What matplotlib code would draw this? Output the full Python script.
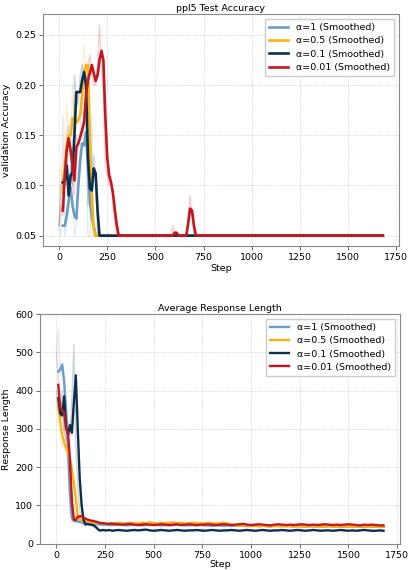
import matplotlib
matplotlib.use("Agg")
import matplotlib.pyplot as plt
import numpy as np

# ---- data -------------------------------------------------------------
labels = ["α=1 (Smoothed)", "α=0.5 (Smoothed)", "α=0.1 (Smoothed)", "α=0.01 (Smoothed)"]
colors = ["#6b9cc4", "#f9b414", "#0c2f4e", "#c4161e"]

# validation accuracy, evaluated every 10 steps
acc_steps = list(range(0, 1690, 10))
acc_floor = 0.05

# raw values, steps 0..320
acc_raw_early = [
    [0.06, 0.05, 0.17, 0.05, 0.06, 0.08, 0.13, 0.09, 0.05, 0.06, 0.11, 0.15, 0.22, 0.14, 0.16, 0.05, 0.05,
     0.17, 0.05, 0.05, 0.05, 0.05, 0.05, 0.05, 0.05, 0.05, 0.05, 0.05, 0.05, 0.05, 0.05, 0.05, 0.05],
    [0.06, 0.12, 0.09, 0.15, 0.18, 0.14, 0.13, 0.20, 0.16, 0.17, 0.16, 0.17, 0.20, 0.24, 0.20, 0.22, 0.13,
     0.05, 0.05, 0.05, 0.05, 0.05, 0.05, 0.05, 0.05, 0.05, 0.05, 0.05, 0.05, 0.05, 0.05, 0.05, 0.05],
    [0.06, 0.10, 0.11, 0.10, 0.13, 0.08, 0.12, 0.10, 0.21, 0.19, 0.18, 0.21, 0.22, 0.21, 0.21, 0.08, 0.09,
     0.10, 0.13, 0.11, 0.05, 0.05, 0.05, 0.05, 0.05, 0.05, 0.05, 0.05, 0.05, 0.05, 0.05, 0.05, 0.05],
    [0.06, 0.08, 0.07, 0.12, 0.15, 0.16, 0.13, 0.11, 0.09, 0.15, 0.14, 0.15, 0.16, 0.17, 0.19, 0.22, 0.23,
     0.21, 0.20, 0.20, 0.22, 0.26, 0.22, 0.19, 0.12, 0.11, 0.10, 0.11, 0.08, 0.06, 0.05, 0.05, 0.05],
]
# smoothed values, steps 20..320
acc_smooth_early = [
    [0.060, 0.060, 0.070, 0.085, 0.098, 0.080, 0.070, 0.067, 0.100, 0.125, 0.142, 0.140, 0.153, 0.120,
     0.085, 0.068, 0.060, 0.050, 0.050, 0.050, 0.050, 0.050, 0.050, 0.050, 0.050, 0.050, 0.050, 0.050,
     0.050, 0.050, 0.050],
    [0.093, 0.120, 0.140, 0.150, 0.150, 0.167, 0.167, 0.163, 0.165, 0.170, 0.190, 0.210, 0.220, 0.220,
     0.150, 0.090, 0.057, 0.050, 0.050, 0.050, 0.050, 0.050, 0.050, 0.050, 0.050, 0.050, 0.050, 0.050,
     0.050, 0.050, 0.050],
    [0.103, 0.105, 0.120, 0.090, 0.110, 0.113, 0.150, 0.193, 0.193, 0.193, 0.205, 0.213, 0.200, 0.130,
     0.097, 0.095, 0.117, 0.112, 0.075, 0.050, 0.050, 0.050, 0.050, 0.050, 0.050, 0.050, 0.050, 0.050,
     0.050, 0.050, 0.050],
    [0.075, 0.110, 0.135, 0.147, 0.135, 0.120, 0.105, 0.138, 0.142, 0.148, 0.155, 0.163, 0.190, 0.205,
     0.212, 0.220, 0.212, 0.204, 0.210, 0.225, 0.234, 0.225, 0.170, 0.128, 0.110, 0.103, 0.092, 0.075,
     0.060, 0.050, 0.050],
]
# late bump of α=0.01, steps 580..720
red_bump_steps = [580, 590, 600, 610, 620, 630, 640, 650, 660, 670, 680, 690, 700, 710, 720]
red_bump_raw = [0.05, 0.06, 0.05, 0.05, 0.05, 0.05, 0.05, 0.05, 0.05, 0.07, 0.09, 0.07, 0.05, 0.05, 0.05]
red_bump_smooth = [0.050, 0.050, 0.053, 0.053, 0.050, 0.050, 0.050, 0.050, 0.050, 0.062, 0.077, 0.075,
                   0.060, 0.050, 0.050]

# response length
resp_steps_early = list(range(10, 300, 10))
resp_steps_late = list(range(300, 1700, 20))
resp_early = [
    [450, 455, 468, 425, 350, 255, 135, 68, 60, 59, 58, 57, 56, 55, 55, 54, 53, 53, 52, 52, 51, 51, 50,
     50, 50, 50, 49, 49, 49],
    [360, 320, 285, 265, 250, 240, 220, 195, 160, 120, 72, 63, 60, 60, 58, 57, 56, 56, 55, 55, 55, 54,
     54, 54, 53, 53, 53, 53, 53],
    [380, 340, 335, 385, 305, 285, 310, 290, 370, 440, 300, 170, 100, 62, 50, 52, 50, 50, 48, 45, 40, 35,
     35, 36, 35, 35, 36, 35, 34],
    [415, 355, 350, 345, 300, 290, 220, 110, 63, 62, 70, 72, 72, 68, 66, 63, 62, 60, 60, 58, 57, 55, 54,
     54, 53, 52, 52, 53, 52],
]
resp_late = [
    [49, 50, 49, 48, 49, 50, 49, 48, 49, 49, 50, 49, 48, 49, 48, 49, 50, 49, 48, 48, 49, 48, 49, 48, 48,
     47, 48, 48, 47, 48, 47, 47, 48, 47, 46, 47, 47, 46, 47, 46, 46, 47, 46, 46, 47, 46, 45, 46, 46, 45,
     46, 45, 46, 45, 45, 46, 45, 45, 44, 45, 45, 44, 45, 45, 44, 45, 44, 45, 44, 44],
    [54, 55, 53, 54, 55, 54, 53, 55, 54, 56, 54, 53, 55, 54, 55, 56, 54, 55, 53, 54, 55, 54, 53, 54, 55,
     54, 53, 54, 55, 53, 50, 48, 47, 48, 47, 46, 47, 46, 47, 46, 45, 46, 47, 46, 45, 46, 45, 46, 45, 46,
     45, 46, 45, 44, 45, 46, 45, 44, 45, 46, 45, 44, 45, 46, 45, 44, 45, 45, 44, 45],
    [35, 36, 35, 34, 35, 36, 35, 36, 37, 35, 34, 35, 36, 35, 34, 35, 36, 35, 34, 35, 35, 36, 35, 34, 35,
     36, 35, 34, 35, 35, 36, 35, 34, 35, 36, 35, 34, 35, 36, 35, 34, 35, 35, 36, 35, 34, 35, 36, 35, 34,
     35, 36, 35, 34, 35, 35, 34, 35, 36, 35, 34, 35, 34, 35, 36, 35, 34, 34, 35, 34],
    [52, 51, 50, 51, 52, 50, 49, 50, 51, 50, 49, 50, 51, 50, 49, 50, 51, 49, 50, 51, 50, 49, 50, 50, 51,
     50, 49, 50, 51, 50, 49, 50, 51, 52, 50, 49, 50, 51, 50, 49, 48, 50, 51, 50, 49, 50, 49, 50, 51, 50,
     49, 50, 49, 50, 51, 50, 49, 50, 49, 50, 51, 50, 49, 48, 50, 49, 50, 49, 48, 48],
]
# raw response length, steps 0..200
resp_raw_steps = list(range(0, 210, 10))
resp_raw = [
    [500, 560, 440, 470, 400, 330, 200, 90, 60, 62, 58, 60, 57, 55, 56, 55, 54, 53, 52, 53, 52],
    [380, 330, 290, 250, 270, 230, 230, 190, 150, 110, 65, 60, 62, 58, 60, 57, 56, 57, 55, 56, 55],
    [400, 350, 320, 400, 290, 270, 320, 280, 380, 520, 260, 150, 90, 60, 48, 55, 50, 52, 48, 46, 42],
    [500, 440, 340, 370, 300, 280, 210, 100, 60, 65, 72, 75, 70, 66, 64, 62, 60, 60, 58, 57, 56],
]


def full_series(early, first_step, bump=None):
    s = np.full(len(acc_steps), acc_floor)
    i0 = acc_steps.index(first_step)
    s[i0:i0 + len(early)] = early
    if first_step > 0:
        s[:i0] = np.nan
    if bump is not None:
        for st, v in zip(red_bump_steps, bump):
            s[acc_steps.index(st)] = v
    return s


# ---- plot -------------------------------------------------------------
plt.rcParams['font.family'] = ['DejaVu Sans']
fs = 6.8
fig = plt.figure(figsize=(4.08, 5.70), dpi=100)
ax1 = fig.add_axes([0.105, 0.568, 0.873, 0.407])
ax2 = fig.add_axes([0.098, 0.046, 0.882, 0.403])

for k in range(4):
    bump_r = red_bump_raw if k == 3 else None
    ax1.plot(acc_steps, full_series(acc_raw_early[k], 0, bump_r), color=colors[k], lw=1, alpha=0.2)
for k in range(4):
    bump_s = red_bump_smooth if k == 3 else None
    ax1.plot(acc_steps, full_series(acc_smooth_early[k], 20, bump_s), color=colors[k], lw=1.9,
             label=labels[k])

ax1.set_title("ppl5 Test Accuracy", fontsize=fs, pad=2)
ax1.set_xlabel("Step", fontsize=fs, labelpad=1)
ax1.set_ylabel("validation Accuracy", fontsize=fs, labelpad=3)
ax1.set_xticks([0, 250, 500, 750, 1000, 1250, 1500, 1750])
ax1.set_yticks([0.05, 0.10, 0.15, 0.20, 0.25])

for k in range(4):
    ax2.plot(resp_raw_steps, resp_raw[k], color=colors[k], lw=1, alpha=0.2)
for k in range(4):
    ax2.plot(resp_steps_early + resp_steps_late, resp_early[k] + resp_late[k], color=colors[k], lw=1.7,
             label=labels[k])

ax2.set_title("Average Response Length", fontsize=fs, pad=2)
ax2.set_xlabel("Step", fontsize=fs, labelpad=0)
ax2.set_ylabel("Response Length", fontsize=fs, labelpad=3)
ax2.set_xticks([0, 250, 500, 750, 1000, 1250, 1500, 1750])
ax2.set_ylim(0, 600)
ax2.set_xlim(-84, 1764)
ax1.set_xlim(-84, 1764)

for ax in (ax1, ax2):
    ax.grid(True, ls=':', lw=0.6, color='#c8c8c8')
    ax.tick_params(labelsize=fs, length=3, width=0.6, pad=2, color='#555555')
    for sp in ax.spines.values():
        sp.set_color('#888888')
        sp.set_linewidth(0.8)
    ax.legend(loc='upper right', fontsize=fs, frameon=True, fancybox=False, framealpha=1,
              edgecolor='#cccccc', handlelength=2.0, borderpad=0.45, labelspacing=0.45)

fig.savefig("out.png", dpi=100)
